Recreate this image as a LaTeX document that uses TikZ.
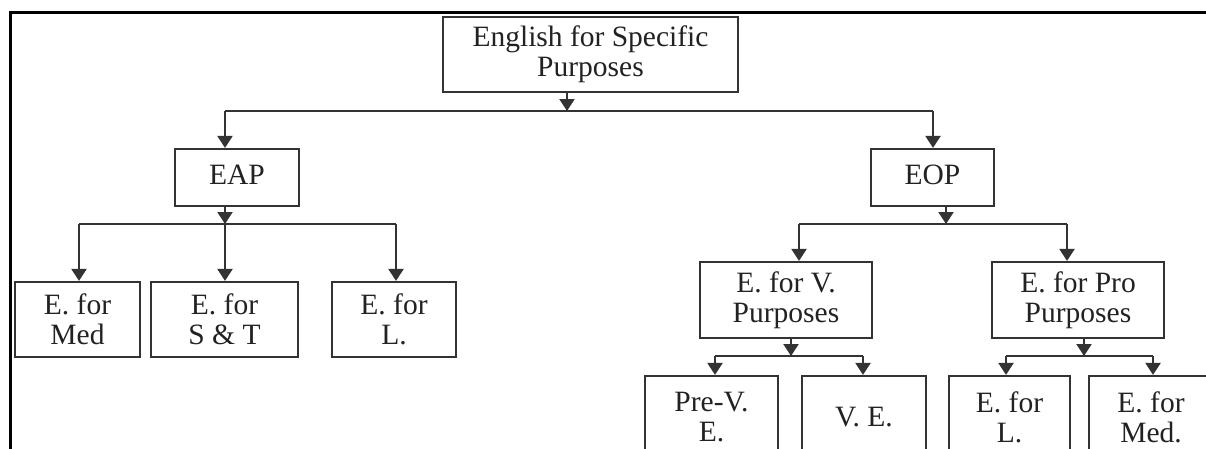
\documentclass[tikz,border=0pt]{standalone}
\usepackage{fontspec}
\setmainfont{Liberation Serif}
\usetikzlibrary{arrows.meta}
\definecolor{ink}{HTML}{222222}
\definecolor{linec}{HTML}{333333}
\tikzset{
  box/.style={draw=linec, line width=2.2pt, inner sep=0pt, align=center,
    text=ink, font=\fontsize{29.5}{30}\selectfont, anchor=center},
  conn/.style={draw=linec, line width=2.2pt},
  arr/.style={conn, -{Triangle[width=15pt,length=12pt]}},
}
\begin{document}
\begin{tikzpicture}[x=1pt,y=-1pt]
\useasboundingbox (0,0) rectangle (1206,448);
\clip (0,0) rectangle (1206,448);
\fill[white] (0,0) rectangle (1206,448);
% frame
\coordinate (fa) at (10,470);
\coordinate (fb) at (10,12);
\coordinate (fc) at (1220,12);
\draw[line width=3pt, draw=black] (fa) -- (fb) -- (fc);
% nodes
\node[box, minimum width=295pt, minimum height=75pt] (root) at (590.5,54.5) {English for Specific\\Purposes};
\node[box, minimum width=124pt, minimum height=57pt] (eap) at (237,177.5) {\raisebox{5pt}{EAP}};
\node[box, minimum width=123pt, minimum height=57pt] (eop) at (932.5,177.5) {\raisebox{5pt}{EOP}};
\node[box, minimum width=125pt, minimum height=75pt] (med) at (77.5,319.5) {E. for\\Med};
\node[box, minimum width=147pt, minimum height=75pt] (st) at (224.5,319.5) {E. for\\S \& T};
\node[box, minimum width=124pt, minimum height=75pt] (law) at (394,319.5) {E. for\\L.};
\node[box, minimum width=172pt, minimum height=76pt] (voc) at (786,300) {E. for V.\\Purposes};
\node[box, minimum width=172pt, minimum height=76pt] (pro) at (1078,300) {E. for Pro\\Purposes};
\node[box, minimum width=133pt, minimum height=82pt] (prev) at (711.5,417) {Pre-V.\\E.};
\node[box, minimum width=124pt, minimum height=82pt] (ve) at (864,417) {V. E.};
\node[box, minimum width=121pt, minimum height=82pt] (el) at (1009.5,417) {E. for\\L.};
\node[box, minimum width=124pt, minimum height=82pt] (emed) at (1151,417) {E. for\\Med.};
% junctions
\coordinate (j1) at (567,111);
\coordinate (j1l) at (225,111);
\coordinate (j1r) at (933,111);
\coordinate (j2) at (225,224);
\coordinate (j2l) at (79,224);
\coordinate (j2r) at (396,224);
\coordinate (j3) at (946,224);
\coordinate (j3l) at (799,224);
\coordinate (j3r) at (1067,224);
\coordinate (j4) at (791,356);
\coordinate (j4l) at (715,356);
\coordinate (j4r) at (863,356);
\coordinate (j5) at (1084,356);
\coordinate (j5l) at (1006,356);
\coordinate (j5r) at (1153,356);
% root level
\draw[arr] (root.south -| j1) -- (j1);
\draw[conn] (j1l) -- (j1r);
\draw[arr] (j1l) -- (j1l |- eap.north);
\draw[arr] (j1r) -- (j1r |- eop.north);
% EAP level
\draw[arr] (eap.south -| j2) -- (j2);
\draw[conn] (j2l) -- (j2r);
\draw[arr] (j2l) -- (j2l |- med.north);
\draw[arr] (j2) -- (j2 |- st.north);
\draw[arr] (j2r) -- (j2r |- law.north);
% EOP level
\draw[arr] (eop.south -| j3) -- (j3);
\draw[conn] (j3l) -- (j3r);
\draw[arr] (j3l) -- (j3l |- voc.north);
\draw[arr] (j3r) -- (j3r |- pro.north);
% V level
\draw[arr] (voc.south -| j4) -- (j4);
\draw[conn] (j4l) -- (j4r);
\draw[arr] (j4l) -- (j4l |- prev.north);
\draw[arr] (j4r) -- (j4r |- ve.north);
% Pro level
\draw[arr] (pro.south -| j5) -- (j5);
\draw[conn] (j5l) -- (j5r);
\draw[arr] (j5l) -- (j5l |- el.north);
\draw[arr] (j5r) -- (j5r |- emed.north);
\end{tikzpicture}
\end{document}
